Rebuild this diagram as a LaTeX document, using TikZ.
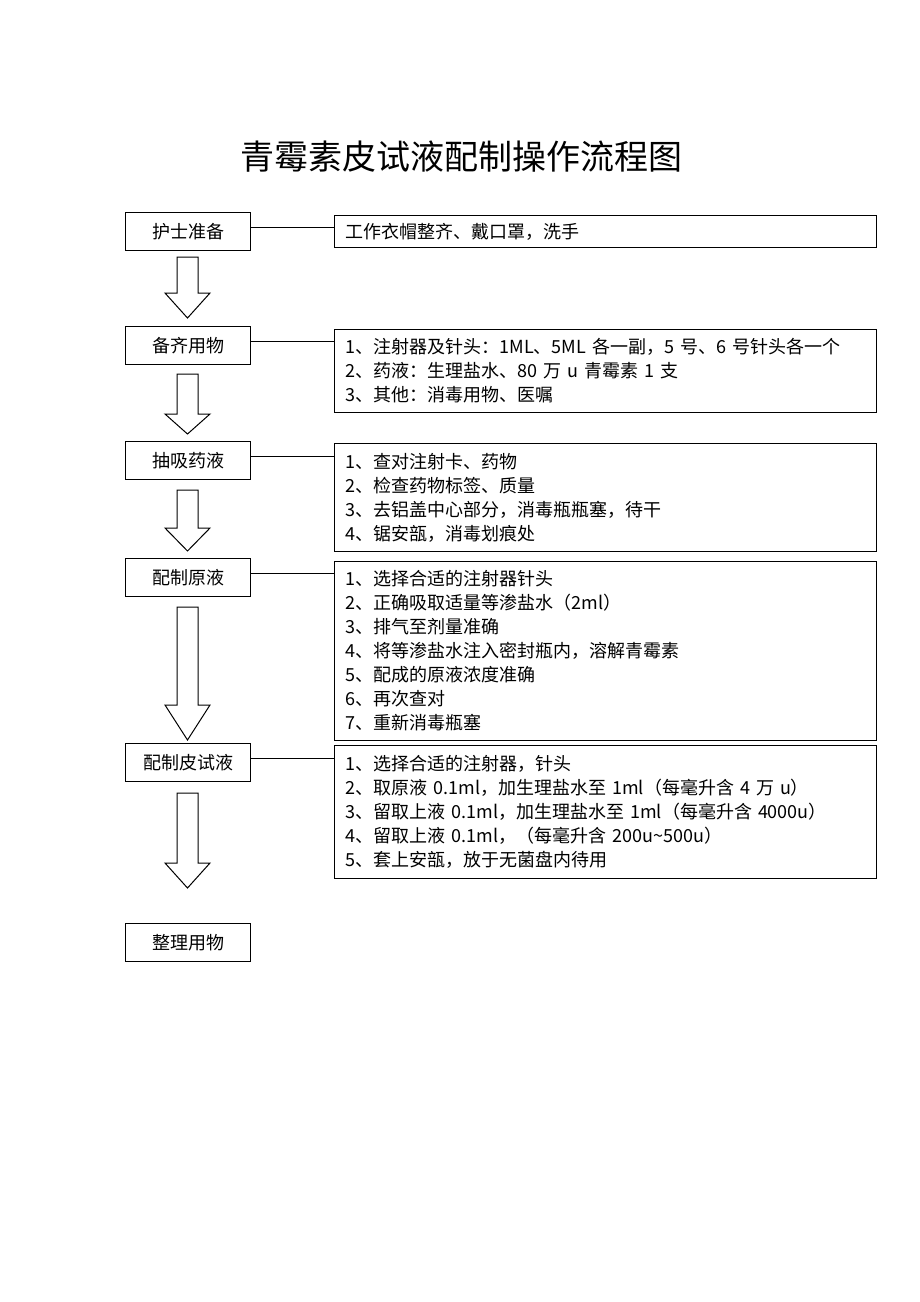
\documentclass[tikz,border=0pt]{standalone}
\usepackage{fontspec}
\setmainfont{Noto Sans CJK SC}
\usetikzlibrary{calc}

\tikzset{
  stepbox/.style={draw, line width=1pt, minimum width=125pt, minimum height=38pt,
    anchor=north west, inner sep=0pt, font=\fontsize{18}{20}\selectfont},
  detailbox/.style={draw, line width=1pt, anchor=north west, text width=520pt,
    inner xsep=11pt, inner ysep=0pt, align=left, font=\fontsize{18}{24}\selectfont},
  linkline/.style={line width=1pt},
  hollowarrow/.style={line width=1pt, line join=miter}
}

% hollow block arrow: top of shaft, base of head, tip
\newcommand{\flowarrow}[3]{%
  \draw[hollowarrow] (177,#1) -- (198,#1) -- (198,#2) -- (210,#2) -- (187.5,#3)
    -- (165,#2) -- (177,#2) -- cycle;}

\begin{document}
\begin{tikzpicture}[x=1pt,y=-1pt]
\useasboundingbox (0,0) rectangle (920,1302);

\node (title) at (461,157) {\fontsize{34}{40}\selectfont 青霉素皮试液配制操作流程图};

% left column
\node[stepbox] (nurse) at (125,212) {护士准备};
\node[stepbox] (items) at (125,326) {备齐用物};
\node[stepbox] (draw) at (125,441) {抽吸药液};
\node[stepbox] (stock) at (125,558) {配制原液};
\node[stepbox] (test) at (125,743) {配制皮试液};
\node[stepbox] (tidy) at (125,923) {整理用物};

% right column
\node[detailbox, minimum height=32pt] (nurse-d) at (334,215) {工作衣帽整齐、戴口罩，洗手};
\node[detailbox, minimum height=83pt] (items-d) at (334,329) {1、注射器及针头：1ML、5ML 各一副，5 号、6 号针头各一个\\
2、药液：生理盐水、80 万 u 青霉素 1 支\\
3、其他：消毒用物、医嘱};
\node[detailbox, minimum height=108pt] (draw-d) at (334,443) {1、查对注射卡、药物\\
2、检查药物标签、质量\\
3、去铝盖中心部分，消毒瓶瓶塞，待干\\
4、锯安瓿，消毒划痕处};
\node[detailbox, minimum height=179pt] (stock-d) at (334,561) {1、选择合适的注射器针头\\
2、正确吸取适量等渗盐水（2ml）\\
3、排气至剂量准确\\
4、将等渗盐水注入密封瓶内，溶解青霉素\\
5、配成的原液浓度准确\\
6、再次查对\\
7、重新消毒瓶塞};
\node[detailbox, minimum height=133pt] (test-d) at (334,745) {1、选择合适的注射器，针头\\
2、取原液 0.1ml，加生理盐水至 1ml（每毫升含 4 万 u）\\
3、留取上液 0.1ml，加生理盐水至 1ml（每毫升含 4000u）\\
4、留取上液 0.1ml，（每毫升含 200u\textasciitilde 500u）\\
5、套上安瓿，放于无菌盘内待用};

% links
\foreach \s in {nurse,items,draw,stock,test}{
  \coordinate (\s-c) at ([yshift=-15pt]\s.north east);
  \draw[linkline] (\s-c) -- (\s-c -| \s-d.west);
}

% arrows
\flowarrow{257}{293}{318}
\flowarrow{374}{414}{434}
\flowarrow{490}{528}{551}
\flowarrow{607}{705}{740}
\flowarrow{793}{863}{888}
\end{tikzpicture}
\end{document}
